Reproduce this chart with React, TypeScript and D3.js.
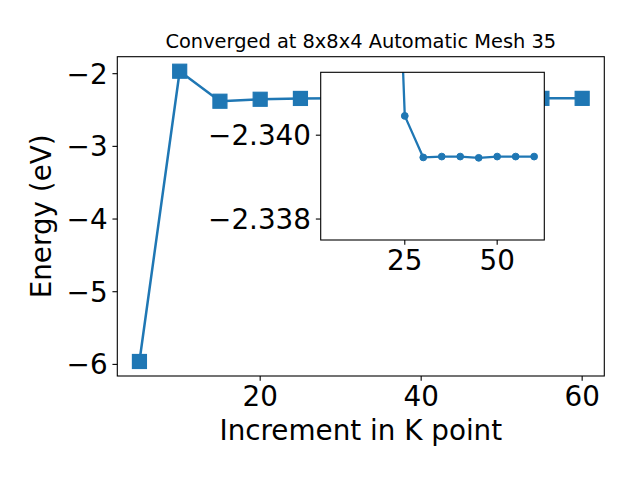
import React from "react";
import * as d3 from "d3";

const kPoints = [5, 10, 15, 20, 25, 30, 35, 40, 45, 50, 55, 60];
const energies = [
  -5.96, -1.966, -2.379, -2.352, -2.34046, -2.33947, -2.33949, -2.33949,
  -2.33946, -2.33949, -2.33949, -2.33949,
];
// the inset only plots the converged tail of the series
const insetFirstK = 15;
const xTicks = [20, 40, 60];
const yTicks = [-6, -5, -4, -3, -2];
const insetXTicks = [25, 50];
const insetYTicks = [-2.34, -2.338];
const insetYLimits = [-2.3415, -2.3375];
const titleText = "Converged at 8x8x4 Automatic Mesh 35";
const xLabel = "Increment in K point";
const yLabel = "Energy (eV)";

const COLOR = "#1f77b4";
const FONT = "DejaVu Sans";
const TICK_FS = 27.8;
const TL = 4.86;
const PAD = 4.86;

const fmtMinus = (s: string) => s.replace("-", "\u2212");

export default function App() {
  const main = { left: 117.3, right: 604.3, top: 56.7, bottom: 376 };
  const ins = { left: 320.7, right: 544.3, top: 72.3, bottom: 240 };

  const xMin = d3.min(kPoints)!;
  const xMax = d3.max(kPoints)!;
  const xm = (xMax - xMin) * 0.05;
  const yMin = d3.min(energies)!;
  const yMax = d3.max(energies)!;
  const ym = (yMax - yMin) * 0.05;

  const x = d3.scaleLinear().domain([xMin - xm, xMax + xm]).range([main.left, main.right]);
  const y = d3.scaleLinear().domain([yMin - ym, yMax + ym]).range([main.bottom, main.top]);

  const xi = d3.scaleLinear().domain([xMin - xm, xMax + xm]).range([ins.left, ins.right]);
  // inverted y axis in the inset
  const yi = d3.scaleLinear().domain(insetYLimits).range([ins.top, ins.bottom]);

  const pts = kPoints.map((k, i) => [k, energies[i]] as [number, number]);
  const insetPts = pts.filter((d) => d[0] >= insetFirstK);
  const mainLine = d3.line<[number, number]>().x((d) => x(d[0])).y((d) => y(d[1]));
  const insetLine = d3.line<[number, number]>().x((d) => xi(d[0])).y((d) => yi(d[1]));

  const ms = 14;

  return (
    <svg
      width={640}
      height={480}
      style={{ position: "absolute", left: 0, top: 0, background: "white" }}
      fontFamily={FONT}
    >
      <defs>
        <clipPath id="insetClip">
          <rect x={ins.left} y={ins.top} width={ins.right - ins.left} height={ins.bottom - ins.top} />
        </clipPath>
      </defs>
      <rect x={0} y={0} width={640} height={480} fill="white" />

      {/* main plot */}
      <path d={mainLine(pts)!} fill="none" stroke={COLOR} strokeWidth={2.5} strokeLinejoin="round" />
      {pts.map((d, i) => (
        <rect
          key={i}
          x={x(d[0]) - ms / 2}
          y={y(d[1]) - ms / 2}
          width={ms}
          height={ms}
          fill={COLOR}
          stroke={COLOR}
          strokeWidth={1.2}
        />
      ))}
      <rect
        x={main.left}
        y={main.top}
        width={main.right - main.left}
        height={main.bottom - main.top}
        fill="none"
        stroke="black"
        strokeWidth={1.1}
      />
      {xTicks.map((t) => (
        <g key={t}>
          <line x1={x(t)} x2={x(t)} y1={main.bottom} y2={main.bottom + TL} stroke="black" strokeWidth={1.1} />
          <text x={x(t)} y={main.bottom + TL + PAD + 20.5} textAnchor="middle" fontSize={TICK_FS}>
            {fmtMinus(String(t))}
          </text>
        </g>
      ))}
      {yTicks.map((t) => (
        <g key={t}>
          <line x1={main.left - TL} x2={main.left} y1={y(t)} y2={y(t)} stroke="black" strokeWidth={1.1} />
          <text x={main.left - TL - PAD} y={y(t) + 10.1} textAnchor="end" fontSize={TICK_FS}>
            {fmtMinus(String(t))}
          </text>
        </g>
      ))}
      <text x={(main.left + main.right) / 2} y={47.5} textAnchor="middle" fontSize={19.4}>
        {titleText}
      </text>
      <text x={(main.left + main.right) / 2} y={440} textAnchor="middle" fontSize={TICK_FS}>
        {xLabel}
      </text>
      <text
        transform={`translate(51,${(main.top + main.bottom) / 2}) rotate(-90)`}
        textAnchor="middle"
        fontSize={TICK_FS}
      >
        {yLabel}
      </text>

      {/* inset */}
      <rect
        x={ins.left}
        y={ins.top}
        width={ins.right - ins.left}
        height={ins.bottom - ins.top}
        fill="white"
      />
      <g clipPath="url(#insetClip)">
        <path d={insetLine(insetPts)!} fill="none" stroke={COLOR} strokeWidth={2.3} strokeLinejoin="round" />
        {insetPts.map((d, i) => (
          <circle key={i} cx={xi(d[0])} cy={yi(d[1])} r={3.4} fill={COLOR} stroke={COLOR} strokeWidth={1} />
        ))}
      </g>
      <rect
        x={ins.left}
        y={ins.top}
        width={ins.right - ins.left}
        height={ins.bottom - ins.top}
        fill="none"
        stroke="black"
        strokeWidth={1.1}
      />
      {insetXTicks.map((t) => (
        <g key={t}>
          <line x1={xi(t)} x2={xi(t)} y1={ins.bottom} y2={ins.bottom + TL} stroke="black" strokeWidth={1.1} />
          <text x={xi(t)} y={ins.bottom + TL + PAD + 20.5} textAnchor="middle" fontSize={TICK_FS}>
            {String(t)}
          </text>
        </g>
      ))}
      {insetYTicks.map((t) => (
        <g key={t}>
          <line x1={ins.left - TL} x2={ins.left} y1={yi(t)} y2={yi(t)} stroke="black" strokeWidth={1.1} />
          <text x={ins.left - TL - PAD} y={yi(t) + 10.1} textAnchor="end" fontSize={TICK_FS}>
            {fmtMinus(t.toFixed(3))}
          </text>
        </g>
      ))}
    </svg>
  );
}
